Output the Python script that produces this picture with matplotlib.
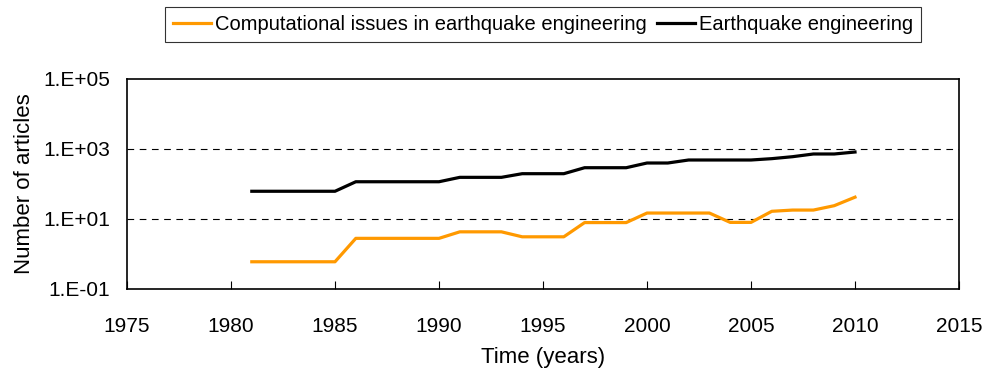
import math

import matplotlib

matplotlib.use("Agg")
import matplotlib.pyplot as plt
from matplotlib.ticker import FixedLocator, FuncFormatter, NullLocator

plt.rcParams["font.family"] = ["Liberation Sans", "DejaVu Sans"]

years = list(range(1981, 2011))
computational = [0.6, 0.6, 0.6, 0.6, 0.6,
                 2.8, 2.8, 2.8, 2.8, 2.8,
                 4.3, 4.3, 4.3,
                 3.1, 3.1, 3.1,
                 7.9, 7.9, 7.9,
                 14.8, 14.8, 14.8, 14.8,
                 8.0, 8.0,
                 16.6, 18, 18, 24, 42]
earthquake = [62, 62, 62, 62, 62,
              116, 116, 116, 116, 116,
              155, 155, 155,
              197, 197, 197,
              292, 292, 292,
              398, 398,
              485, 485, 485, 485,
              530, 603, 720, 720, 820]
x_ticks = [1975, 1980, 1985, 1990, 1995, 2000, 2005, 2010, 2015]
y_ticks = [1e-1, 1e1, 1e3, 1e5]


def excel_sci(v, pos):
    exp = int(round(math.log10(v)))
    sign = "+" if exp >= 0 else "-"
    return f"1.E{sign}{abs(exp):02d}"


fig = plt.figure(figsize=(9.83, 3.74), dpi=100)
ax = fig.add_axes([127 / 983, 1 - 289 / 374, (959 - 127) / 983, (289 - 79) / 374])

ax.plot(years, computational, color="#FF9900", lw=2.3,
        label="Computational issues in earthquake engineering")
ax.plot(years, earthquake, color="black", lw=2.3, label="Earthquake engineering")

ax.set_yscale("log")
ax.set_xlim(1975, 2015)
ax.set_ylim(1e-1, 1e5)
ax.xaxis.set_major_locator(FixedLocator(x_ticks))
ax.yaxis.set_major_locator(FixedLocator(y_ticks))
ax.yaxis.set_minor_locator(NullLocator())
ax.yaxis.set_major_formatter(FuncFormatter(excel_sci))

for y in y_ticks[1:3]:
    ax.axhline(y, color="black", lw=0.8, ls=(0, (6, 5)), zorder=0)

ax.tick_params(axis="x", direction="in", length=6, width=0.8, labelsize=15, pad=20)
ax.tick_params(axis="y", length=0, labelsize=15, pad=12)
for sp in ax.spines.values():
    sp.set_linewidth(1.2)

ax.set_xlabel("Time (years)", fontsize=16, labelpad=8)
ax.set_ylabel("Number of articles", fontsize=16, labelpad=6)

leg = ax.legend(loc="lower center", bbox_to_anchor=(0.5, 1.176), ncol=2, fontsize=14.5,
                frameon=True, fancybox=False, edgecolor="black", handlelength=1.9,
                handletextpad=0.2, columnspacing=0.5, borderpad=0.4, borderaxespad=0)
leg.get_frame().set_linewidth(0.8)

fig.savefig("out.png", dpi=100)
